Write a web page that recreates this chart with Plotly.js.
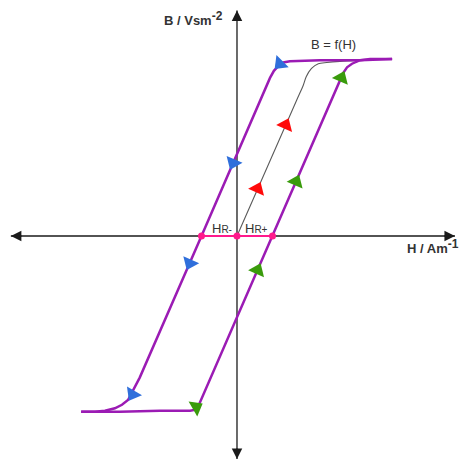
<!DOCTYPE html>
<html>
<head>
<meta charset="utf-8">
<script src="https://cdn.plot.ly/plotly-3.0.1.min.js"></script>
<style>
  html, body { margin: 0; padding: 0; background: #fff; }
  #chart { width: 459px; height: 462px; }
</style>
</head>
<body>
<div id="chart"></div>
<script>
// Hysteresis loop B = f(H), field strength H and flux density B in arbitrary units.

// Upper (descending) branch: positive saturation down to negative saturation
const hDown = [4.37, 3.47, 2.34, 1.78, 1.49, 1.30, 1.16, 1.04, 0.93, -1.0, -2.74, -3.07, -3.24, -3.44, -3.72, -4.0, -4.39];
const bDown = [1.50, 1.49, 1.49, 1.48, 1.48, 1.47, 1.44, 1.40, 1.34, 0.0, -1.20, -1.39, -1.43, -1.46, -1.48, -1.49, -1.49];

// Lower (ascending) branch: negative saturation back up to positive saturation
const hUp = [-4.39, -3.30, -2.17, -1.32, -1.13, 1.0, 2.99, 3.10, 3.24, 3.47, 3.75, 4.37];
const bUp = [-1.49, -1.49, -1.48, -1.48, -1.47, 0.0, 1.38, 1.43, 1.46, 1.49, 1.50, 1.50];

// Initial magnetisation curve from the origin
const hVirgin = [0, 1.68, 1.87, 1.95, 2.10, 2.29, 2.53, 2.90, 3.47];
const bVirgin = [0, 1.15, 1.28, 1.35, 1.42, 1.46, 1.47, 1.48, 1.49];

// Remanence points HR- , origin, HR+
const hRem = [-1.0, 0, 1.0];
const bRem = [0, 0, 0];

// Direction arrows on each curve
const hArrowDown = [1.21, -0.11, -1.33, -2.94];
const bArrowDown = [1.46, 0.62, -0.23, -1.34];
const angArrowDown = [225, 203.5, 203.5, 210];

const hArrowUp = [-1.15, 0.58, 1.665, 2.94];
const bArrowUp = [-1.45, -0.29, 0.46, 1.34];
const angArrowUp = [60, 23.5, 23.5, 23.5];

const hArrowVirgin = [0.58, 1.37];
const bArrowVirgin = [0.40, 0.94];
const angArrowVirgin = [23.7, 23.7];

// Extent of the drawn H and B axes
const hAxis = [-6.37, 6.14];
const bAxis = [-1.89, 1.91];

const purple = '#9b1bb4';

const traces = [
  { x: hVirgin, y: bVirgin, mode: 'lines', line: { color: '#5a5a5a', width: 1.1, shape: 'spline', smoothing: 0.8 }, hoverinfo: 'skip' },
  { x: hRem, y: bRem, mode: 'lines', line: { color: '#ff1a8c', width: 2 }, hoverinfo: 'skip' },
  { x: hDown, y: bDown, mode: 'lines', line: { color: purple, width: 2.5 }, hoverinfo: 'skip' },
  { x: hUp, y: bUp, mode: 'lines', line: { color: purple, width: 2.5 }, hoverinfo: 'skip' },
  { x: hRem, y: bRem, mode: 'markers', marker: { color: '#ff1a8c', size: 7 }, hoverinfo: 'skip' },
  { x: hArrowDown, y: bArrowDown, mode: 'markers',
    marker: { symbol: 'triangle-up', size: 15, color: '#2f6fdb', angle: angArrowDown, line: { width: 0 } }, hoverinfo: 'skip' },
  { x: hArrowUp, y: bArrowUp, mode: 'markers',
    marker: { symbol: 'triangle-up', size: 15, color: '#3a9b0c', angle: angArrowUp, line: { width: 0 } }, hoverinfo: 'skip' },
  { x: hArrowVirgin, y: bArrowVirgin, mode: 'markers',
    marker: { symbol: 'triangle-up', size: 15, color: '#ff0a0a', angle: angArrowVirgin, line: { width: 0 } }, hoverinfo: 'skip' }
];

const txtFont = { family: 'Liberation Sans, Arial, sans-serif', size: 13, color: '#333' };
const boldFont = { family: 'Liberation Sans, Arial, sans-serif', size: 13, color: '#333', weight: 'bold' };

function axisArrow(x, y, ax, ay) {
  return { x: x, y: y, xref: 'x', yref: 'y', ax: ax, ay: ay, text: '', showarrow: true,
           arrowhead: 2, arrowsize: 1.4, arrowwidth: 1.5, arrowcolor: '#1a1a1a', standoff: 0 };
}

const layout = {
  width: 459, height: 462,
  margin: { l: 0, r: 0, t: 0, b: 0 },
  paper_bgcolor: '#fff', plot_bgcolor: '#fff',
  showlegend: false,
  xaxis: { range: [-6.676, 6.254], visible: false, fixedrange: true },
  yaxis: { range: [-1.915, 2.0], visible: false, fixedrange: true },
  shapes: [
    { type: 'line', xref: 'x', yref: 'y', x0: hAxis[0], x1: hAxis[1], y0: 0, y1: 0,
      line: { color: '#1a1a1a', width: 1.5 }, layer: 'below' },
    { type: 'line', xref: 'x', yref: 'y', x0: 0, x1: 0, y0: bAxis[0], y1: bAxis[1],
      line: { color: '#3a3a3a', width: 1.5 }, layer: 'below' }
  ],
  annotations: [
    axisArrow(hAxis[1], 0, -12, 0),
    axisArrow(hAxis[0], 0, 12, 0),
    axisArrow(0, bAxis[1], 0, 12),
    axisArrow(0, bAxis[0], 0, -12),
    { x: -1.22, y: 1.84, xref: 'x', yref: 'y', text: 'B / Vsm<sup><span style="font-size:12px">-2</span></sup>', showarrow: false, font: boldFont },
    { x: 4.73, y: -0.09, xref: 'x', yref: 'y', xanchor: 'left', text: 'H / Am<sup><span style="font-size:12px">-1</span></sup>', showarrow: false, font: boldFont },
    { x: 2.73, y: 1.627, xref: 'x', yref: 'y', text: 'B = f(H)', showarrow: false, font: txtFont },
    { x: -0.41, y: 0.06, xref: 'x', yref: 'y', text: 'H<span style="font-size:10px">R-</span>', showarrow: false, font: txtFont },
    { x: 0.56, y: 0.06, xref: 'x', yref: 'y', text: 'H<span style="font-size:10px">R+</span>', showarrow: false, font: txtFont }
  ]
};

Plotly.newPlot('chart', traces, layout, { staticPlot: true, displayModeBar: false });
</script>
</body>
</html>
